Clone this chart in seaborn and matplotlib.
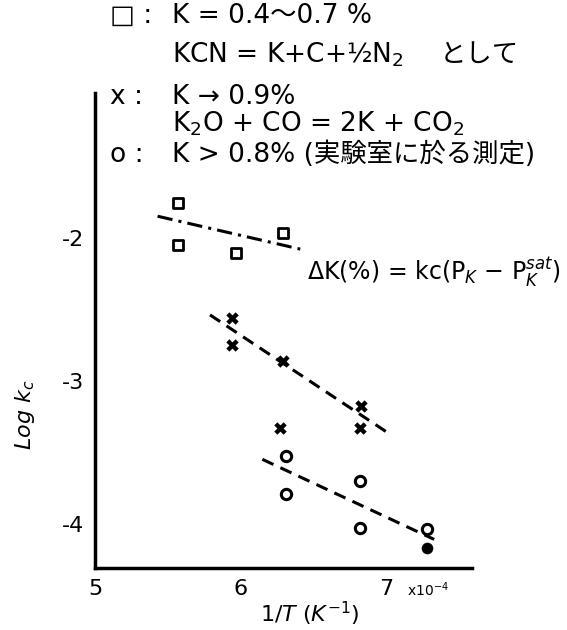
import numpy as np
import pandas as pd
import seaborn as sns
import matplotlib.pyplot as plt

# data (x in units of 1e-4 K^-1, y = log kc)
sq_x = [5.57, 5.57, 5.97, 6.29]
sq_y = [-1.76, -2.05, -2.11, -1.97]
cr_x = [5.94, 5.94, 6.29, 6.83, 6.27, 6.82]
cr_y = [-2.56, -2.75, -2.86, -3.18, -3.33, -3.33]
ci_x = [6.31, 6.31, 6.82, 6.82, 7.28]
ci_y = [-3.53, -3.79, -3.70, -4.03, -4.04]
ci_filled_x = [7.28]
ci_filled_y = [-4.17]

# hand-drawn trend lines (end points)
sq_line_x = [5.43, 6.41]
sq_line_y = [-1.85, -2.08]
cr_line_x = [5.79, 7.02]
cr_line_y = [-2.54, -3.37]
ci_line_x = [6.15, 7.33]
ci_line_y = [-3.55, -4.11]

x_ticks = [5, 6, 7]
y_ticks = [-4, -3, -2]

sns.set_theme(style="white", rc={"text.color": "black", "xtick.color": "black",
                                 "ytick.color": "black", "axes.labelcolor": "black"})
plt.rcParams["font.family"] = ["DejaVu Sans", "Noto Sans CJK JP"]

fig = plt.figure(figsize=(5.67, 6.30), dpi=100)
ax = fig.add_axes([0.1675, 0.0984, 0.665, 0.7536])

sq = pd.DataFrame({"x": sq_x, "y": sq_y})
cr = pd.DataFrame({"x": cr_x, "y": cr_y})
ci = pd.DataFrame({"x": ci_x, "y": ci_y})
cf = pd.DataFrame({"x": ci_filled_x, "y": ci_filled_y})

sns.scatterplot(data=sq, x="x", y="y", marker="s", s=45, facecolor="white",
                edgecolor="black", linewidth=2, ax=ax, zorder=3)
sns.scatterplot(data=cr, x="x", y="y", marker="X", s=80, color="black",
                linewidth=0, ax=ax, zorder=3)
sns.scatterplot(data=ci, x="x", y="y", marker="o", s=55, facecolor="white",
                edgecolor="black", linewidth=2.2, ax=ax, zorder=3)
sns.scatterplot(data=cf, x="x", y="y", marker="o", s=70, color="black",
                linewidth=0, ax=ax, zorder=3)

sns.lineplot(x=sq_line_x, y=sq_line_y, color="black", lw=2.2, ax=ax,
             linestyle=(0, (5, 2, 1, 2)))
sns.lineplot(x=cr_line_x, y=cr_line_y, color="black", lw=2.2, ax=ax,
             linestyle=(0, (4, 2.5)))
sns.lineplot(x=ci_line_x, y=ci_line_y, color="black", lw=2.2, ax=ax,
             linestyle=(0, (4, 2.5)))

ax.set_xlim(5, 7.59)
ax.set_ylim(-4.31, -0.99)
ax.set_xticks(x_ticks)
ax.set_yticks(y_ticks)
ax.set_xticklabels([str(v) for v in x_ticks], fontsize=16)
ax.set_yticklabels(["-4", "-3", "-2"], fontsize=16)
ax.tick_params(direction="in", length=6, width=2, color="black", pad=8)
for side in ["top", "right"]:
    ax.spines[side].set_visible(False)
for side in ["left", "bottom"]:
    ax.spines[side].set_linewidth(2.5)
    ax.spines[side].set_color("black")
ax.set_xlabel("")
ax.set_ylabel("")

def px(x, y):
    return x / 567, 1 - y / 630

fig.text(*px(310, 614), r"$\it{1/T}$ ($K^{-1}$)", fontsize=16, ha="center", va="center")
fig.text(*px(25, 415), r"$\it{Log\ k_c}$", fontsize=16, ha="center", va="center",
         rotation=90)
fig.text(*px(407, 590), r"x$10^{-4}$", fontsize=10, ha="left", va="center")

# legend-like notes at the top
fs = 19
fig.text(*px(110, 16), "□ :", fontsize=fs, ha="left", va="center")
fig.text(*px(172, 16), "K = 0.4～0.7 %", fontsize=fs, ha="left", va="center")
fig.text(*px(172, 55), "KCN = K+C+½N$_2$", fontsize=fs, ha="left", va="center")
fig.text(*px(440, 55), "として", fontsize=fs, ha="left", va="center")
fig.text(*px(110, 97), "x :", fontsize=fs, ha="left", va="center")
fig.text(*px(172, 97), "K → 0.9%", fontsize=fs, ha="left", va="center")
fig.text(*px(172, 124), "K$_2$O + CO = 2K + CO$_2$", fontsize=fs, ha="left", va="center")
fig.text(*px(110, 155), "o :", fontsize=fs, ha="left", va="center")
fig.text(*px(172, 155), "K > 0.8% (実験室に於る測定)", fontsize=fs, ha="left", va="center")

ax.text(7.33, -2.24, r"$\Delta$K(%) = kc(P$_K$ − P$_K^{sat}$)", fontsize=17,
        ha="center", va="center")

fig.savefig("out.png", dpi=100)
